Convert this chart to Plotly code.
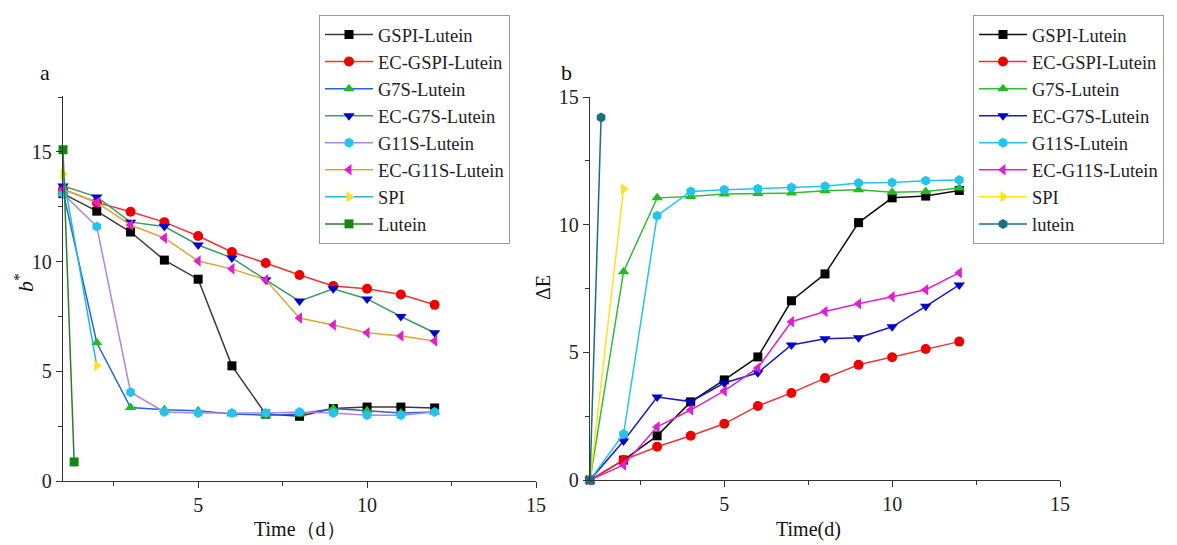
import plotly.graph_objects as go

# ---------------- data ----------------
days = [1, 2, 3, 4, 5, 6, 7, 8, 9, 10, 11, 12]
days_spi = [1, 2]
days_lutein = [1, 1.33]

# panel a : b*
b_gspi = [13.1, 12.3, 11.35, 10.07, 9.2, 5.25, 3.05, 2.95, 3.3, 3.37, 3.37, 3.33]
b_ec_gspi = [13.3, 12.7, 12.27, 11.8, 11.17, 10.44, 9.94, 9.39, 8.89, 8.76, 8.5, 8.03]
b_g7s = [13.2, 6.3, 3.35, 3.25, 3.2, 3.05, 3.0, 3.05, 3.3, 3.2, 3.1, 3.15]
b_ec_g7s = [13.45, 12.95, 11.8, 11.6, 10.76, 10.17, 9.17, 8.2, 8.76, 8.3, 7.5, 6.76]
b_g11s = [13.1, 11.6, 4.05, 3.15, 3.1, 3.1, 3.1, 3.15, 3.1, 3.0, 3.0, 3.14]
b_ec_g11s = [13.3, 12.7, 11.67, 11.08, 10.03, 9.67, 9.17, 7.43, 7.11, 6.76, 6.61, 6.38]
b_spi = [14.0, 5.25]
b_lutein = [15.1, 0.87]

# panel b : ΔE
e_gspi = [0, 0.78, 1.73, 3.06, 3.92, 4.82, 7.02, 8.07, 10.08, 11.05, 11.12, 11.34]
e_ec_gspi = [0, 0.78, 1.3, 1.73, 2.2, 2.9, 3.41, 3.99, 4.51, 4.81, 5.13, 5.42]
e_g7s = [0, 8.16, 11.05, 11.1, 11.2, 11.22, 11.24, 11.33, 11.37, 11.27, 11.3, 11.44]
e_ec_g7s = [0, 1.53, 3.25, 3.07, 3.8, 4.2, 5.29, 5.53, 5.57, 6.0, 6.8, 7.64]
e_g11s = [0, 1.8, 10.35, 11.3, 11.37, 11.41, 11.46, 11.5, 11.63, 11.65, 11.72, 11.75]
e_ec_g11s = [0, 0.59, 2.08, 2.74, 3.49, 4.39, 6.2, 6.6, 6.9, 7.18, 7.45, 8.12]
e_spi = [0, 11.4]
e_lutein = [0, 14.2]

names_a = ["GSPI-Lutein", "EC-GSPI-Lutein", "G7S-Lutein", "EC-G7S-Lutein",
           "G11S-Lutein", "EC-G11S-Lutein", "SPI", "Lutein"]
names_b = ["GSPI-Lutein", "EC-GSPI-Lutein", "G7S-Lutein", "EC-G7S-Lutein",
           "G11S-Lutein", "EC-G11S-Lutein", "SPI", "lutein"]

FONT = "Liberation Serif, Times New Roman, serif"

fig = go.Figure()

series_a = [
    (days, b_gspi, "#3a3a3a", "#000000", "square"),
    (days, b_ec_gspi, "#ee3333", "#ee0000", "circle"),
    (days, b_g7s, "#1f66dd", "#22bb22", "triangle-up"),
    (days, b_ec_g7s, "#3a9a6a", "#0000cc", "triangle-down"),
    (days, b_g11s, "#b383e0", "#22c4ee", "hexagon"),
    (days, b_ec_g11s, "#e3a23a", "#e020d0", "triangle-left"),
    (days_spi, b_spi, "#22b8e0", "#ffe21a", "triangle-right"),
    (days_lutein, b_lutein, "#2a7d2a", "#118811", "square"),
]
for name, (xs, ys, lc, mc, sym) in zip(names_a, series_a):
    fig.add_trace(go.Scatter(
        x=xs, y=ys, name=name, mode="lines+markers",
        line=dict(color=lc, width=1.5),
        marker=dict(color=mc, symbol=sym, size=10 if sym != "square" else 9),
        xaxis="x", yaxis="y", legend="legend", cliponaxis=False))

series_b = [
    (days, e_gspi, "#111111", "#000000", "square"),
    (days, e_ec_gspi, "#ee3333", "#ee0000", "circle"),
    (days, e_g7s, "#33bb33", "#22bb22", "triangle-up"),
    (days, e_ec_g7s, "#1a1acc", "#0000cc", "triangle-down"),
    (days, e_g11s, "#22c4ee", "#22c4ee", "hexagon"),
    (days, e_ec_g11s, "#e020d0", "#e020d0", "triangle-left"),
    (days_spi, e_spi, "#ffe21a", "#ffe21a", "triangle-right"),
    (days_lutein, e_lutein, "#1a6e82", "#1a6e82", "hexagon"),
]
for name, (xs, ys, lc, mc, sym) in zip(names_b, series_b):
    fig.add_trace(go.Scatter(
        x=xs, y=ys, name=name, mode="lines+markers",
        line=dict(color=lc, width=1.5),
        marker=dict(color=mc, symbol=sym, size=10 if sym != "square" else 9),
        xaxis="x2", yaxis="y2", legend="legend2", cliponaxis=False))

W, H = 1177, 545

def px_x(p):
    return p / W

def px_y(p):
    return 1 - p / H

axis_common = dict(
    showline=True, linecolor="#333333", linewidth=1.3,
    ticks="outside", ticklen=6, tickwidth=1.3, tickcolor="#333333",
    showgrid=False, zeroline=False,
    tickfont=dict(family=FONT, size=20, color="#222222"),
    minor=dict(ticks="outside", ticklen=4, tickwidth=1.1, tickcolor="#333333",
               dtick=2.5, showgrid=False),
)

legend_common = dict(
    font=dict(family=FONT, size=18.5, color="#222222"),
    bgcolor="rgba(255,255,255,1)", bordercolor="#9a9a9a", borderwidth=1,
    xanchor="left", yanchor="top", itemwidth=48, tracegroupgap=0,
    xref="paper", yref="paper",
)

def label(text, x, y, size=20, angle=0):
    return dict(text=text, x=px_x(x), y=px_y(y), xref="paper", yref="paper",
                xanchor="center", yanchor="middle", showarrow=False,
                textangle=angle, font=dict(family=FONT, size=size, color="#111111"))

fig.update_layout(
    width=W, height=H,
    margin=dict(l=0, r=0, t=0, b=0, autoexpand=False),
    paper_bgcolor="white", plot_bgcolor="white",
    font=dict(family=FONT),
    showlegend=True,
    xaxis=dict(domain=[px_x(63), px_x(536)], range=[1, 15], tick0=0, dtick=5,
               anchor="y", **axis_common),
    yaxis=dict(domain=[px_y(481), px_y(96)], range=[0, 17.55], tick0=0, dtick=5,
               anchor="x", **axis_common),
    xaxis2=dict(domain=[px_x(590), px_x(1060)], range=[1, 15], tick0=0, dtick=5,
                anchor="y2", **axis_common),
    yaxis2=dict(domain=[px_y(480), px_y(97)], range=[0, 15], tick0=0, dtick=5,
                anchor="x2", **axis_common),
    legend=dict(x=px_x(319), y=px_y(15), **legend_common),
    legend2=dict(x=px_x(973), y=px_y(15), **legend_common),
    annotations=[
        label("a", 45, 72, 22),
        label("b", 566, 72, 22),
        label("<i>b</i><sup>*</sup>", 24, 283, 22, -90),
        label("ΔE", 543, 288, 20, -90),
        label("Time（d）", 300, 529, 20),
        label("Time(d)", 808, 529, 20),
    ],
)

fig.write_html("out.html", config={"displayModeBar": False},
               post_script="document.body.style.margin='0';document.body.style.overflow='hidden';")
